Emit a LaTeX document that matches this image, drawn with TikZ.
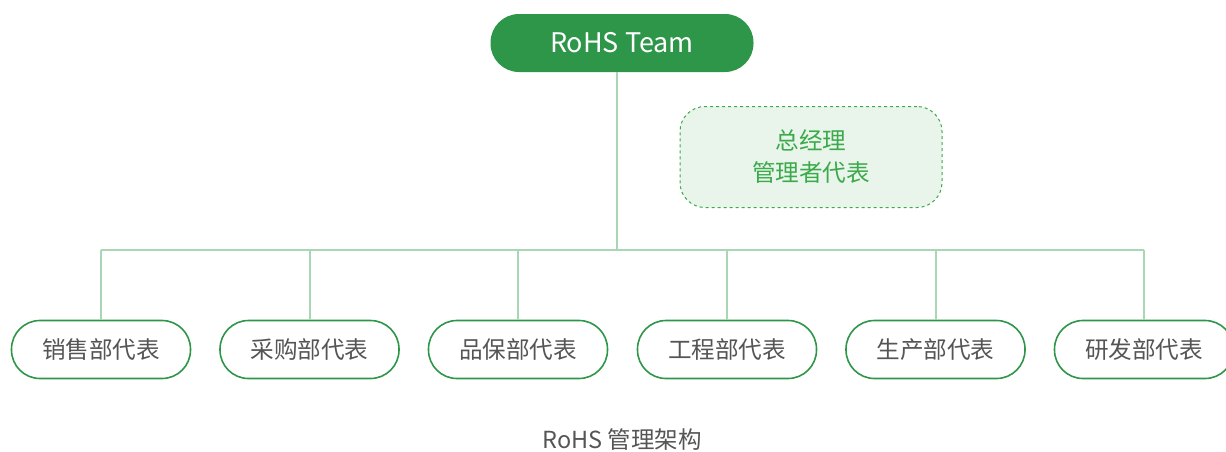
\documentclass[tikz,border=0pt]{standalone}
\usepackage{fontspec}
\setmainfont{Noto Sans CJK SC}
\usetikzlibrary{positioning}

\definecolor{teamgreen}{HTML}{2E9648}
\definecolor{linkgreen}{HTML}{A9D7B6}
\definecolor{notegreen}{HTML}{3AAA4A}
\definecolor{notefill}{HTML}{E9F4EB}
\definecolor{textgray}{HTML}{555555}

\tikzset{
  team/.style={rounded corners=28.5pt, fill=teamgreen, text=white,
    minimum width=263pt, minimum height=58pt, font=\fontsize{27}{30}\selectfont},
  dept/.style={draw=teamgreen, line width=1.6pt, rounded corners=28.5pt, fill=white,
    text=textgray, minimum width=179pt, minimum height=58pt, font=\fontsize{23.6}{26}\selectfont},
  note/.style={draw=notegreen, dashed, line width=1pt, fill=notefill, rounded corners=25pt,
    text=notegreen, minimum width=262pt, minimum height=101pt, align=center,
    font=\fontsize{23.6}{32}\selectfont},
  link/.style={draw=linkgreen, line width=2pt},
}

\begin{document}
\begin{tikzpicture}[x=1pt,y=-1pt]
        \useasboundingbox (0,0) rectangle (1226,451);

        % Draw team and manager note
        \node[team] (team) at (622,43) {RoHS Team};
        \node[note] (gm) at (811,157) {总经理\\管理者代表};

        % Draw departments
        \foreach \i/\x/\name in {1/101/销售部代表, 2/309.5/采购部代表, 3/518/品保部代表,
                                 4/727/工程部代表, 5/935.5/生产部代表, 6/1144/研发部代表}
           {
                \node[dept] (d\i) at (\x,349.5) {\name};
           }

        % Draw connectors
        \coordinate (bus) at (617,250);
        \draw[link] (team.south -| bus) -- (bus);
        \draw[link] (d1.north |- bus) -- (d6.north |- bus);
        \foreach \i in {1,...,6}
           {
                \draw[link] (d\i.north |- bus) -- (d\i.north);
           }

        \node[text=textgray, font=\fontsize{23.5}{26}\selectfont] (caption) at (622,440) {RoHS 管理架构};
    \end{tikzpicture}
\end{document}
